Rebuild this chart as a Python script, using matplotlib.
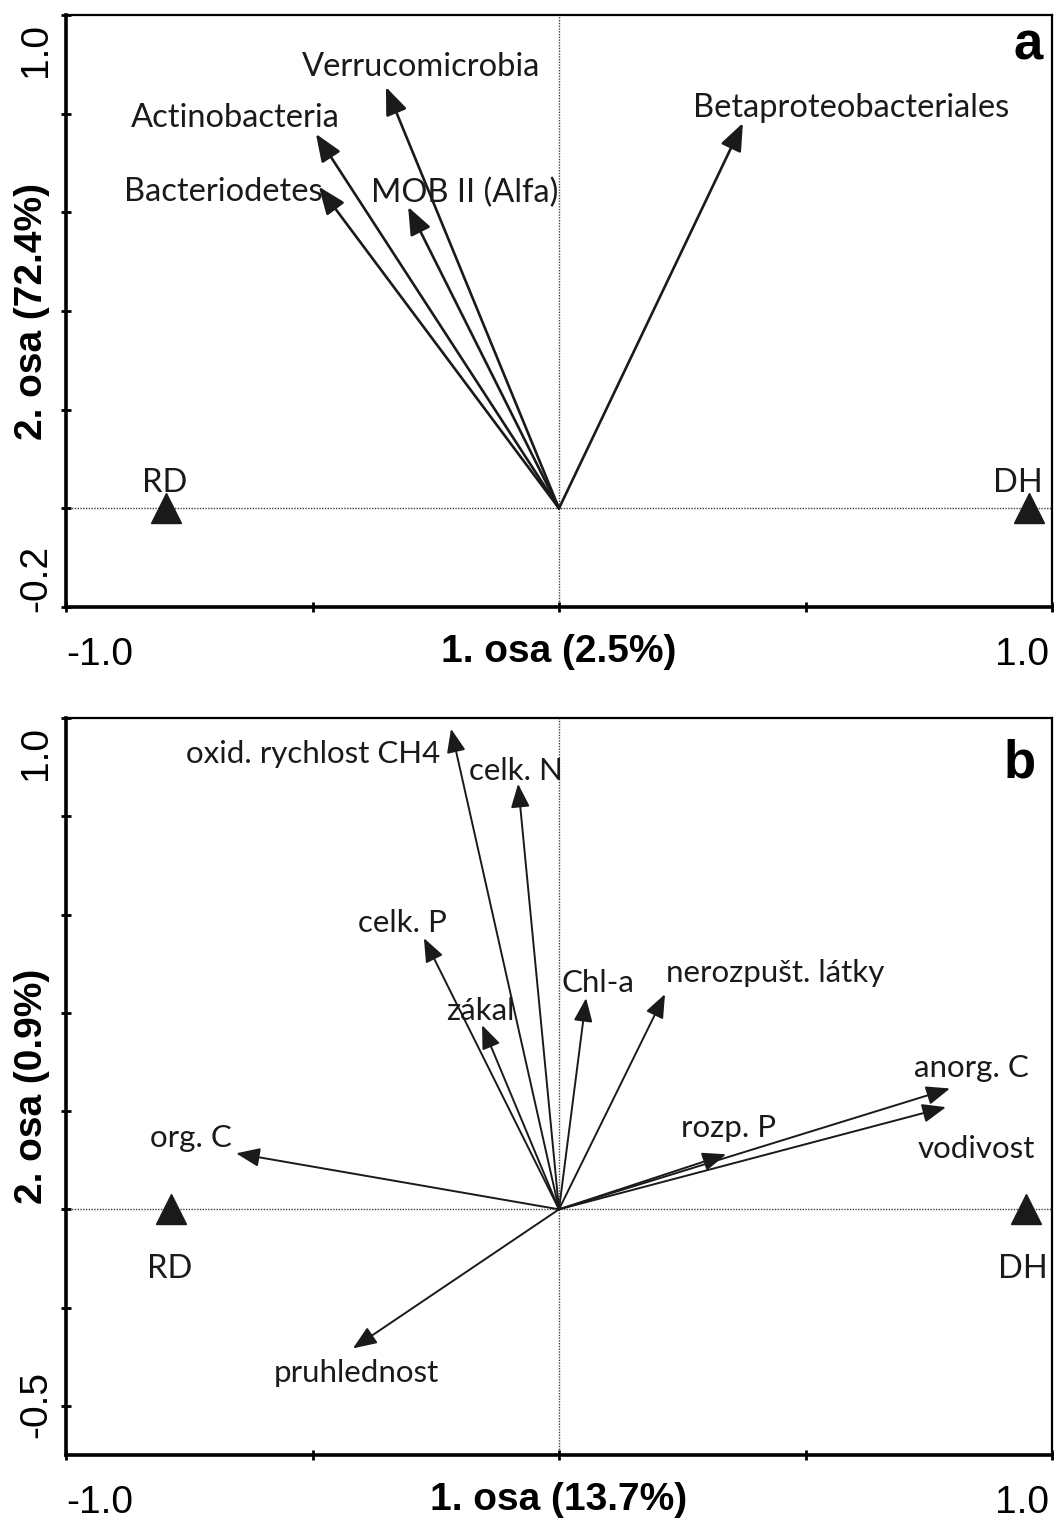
import matplotlib
matplotlib.use('Agg')

import matplotlib.pyplot as plt
import numpy as np

# RDA ordination scores (axis 1, axis 2)
# a) bacterial groups
taxa = ['Verrucomicrobia', 'Actinobacteria', 'Bacteriodetes', 'MOB II (Alfa)', 'Betaproteobacteriales']
taxa_ax1 = [-0.351, -0.493, -0.487, -0.306, 0.373]
taxa_ax2 = [0.854, 0.759, 0.652, 0.611, 0.781]

# b) environmental variables
env = ['oxid. rychlost CH4', 'celk. N', 'celk. P', 'zákal', 'Chl-a', 'nerozpušt. látky',
       'anorg. C', 'vodivost', 'rozp. P', 'org. C', 'pruhlednost']
env_ax1 = [-0.219, -0.083, -0.274, -0.156, 0.055, 0.215, 0.793, 0.785, 0.339, -0.655, -0.418]
env_ax2 = [0.978, 0.866, 0.552, 0.375, 0.430, 0.438, 0.246, 0.208, 0.112, 0.114, -0.283]

# sampling sites
sites = ['RD', 'DH']
sites_ax1_a = [-0.797, 0.953]
sites_ax1_b = [-0.787, 0.947]
sites_ax2 = [0.0, 0.0]

# label placement (pixels relative to arrow tip)
taxa_off = [(35, 20), (-81, 16), (-96, -5), (57, 14), (108, 15)]
env_off = [(-138, -25), (-2, 13), (-21, 15), (-2, 14), (12, 15), (110, 21),
           (21, 20), (30, -42), (2, 26), (-45, 15), (3, -25)]

LBL = 'Lato'
NARROW = ['Liberation Sans Narrow', 'Liberation Sans']
INK = '#1a1a1a'

fig = plt.figure(figsize=(10.58, 15.24), dpi=100)
ax_a = fig.add_axes([66 / 1058, 1 - 607 / 1524, 986 / 1058, 592 / 1524])
ax_b = fig.add_axes([66 / 1058, 1 - 1455 / 1524, 986 / 1058, 737 / 1524])


def frame(ax, ylo, yticks, ylo_lbl, xlab, ylab, letter, ylo_off, letter_off):
    ax.set_xlim(-1, 1)
    ax.set_ylim(ylo, 1.0)
    ax.axhline(0, color='0.25', lw=1, ls=(0, (1, 1)), zorder=1)
    ax.axvline(0, color='0.25', lw=1, ls=(0, (1, 1)), zorder=1)
    for s in ['left', 'bottom']:
        ax.spines[s].set_linewidth(2.6)
    for s in ['top', 'right']:
        ax.spines[s].set_linewidth(1.6)
    ax.set_xticks([-1, -0.5, 0, 0.5, 1])
    ax.set_yticks(yticks)
    ax.tick_params(direction='inout', length=7, width=2, labelleft=False, labelbottom=False)
    tk = dict(fontsize=28, family=NARROW, fontstretch='condensed',
              xycoords='axes fraction', textcoords='offset pixels', ha='center', va='center')
    ax.annotate('-1.0', (0, 0), (34, -48), **tk)
    ax.annotate('1.0', (1, 0), (-30, -48), **tk)
    ax.annotate('1.0', (0, 1), (-30, -35), rotation=90, **tk)
    ax.annotate(ylo_lbl, (0, 0), (-30, ylo_off), rotation=90, **tk)
    ax.annotate(xlab, (0.5, 0), (0, -45), fontweight='bold', **tk)
    ax.annotate(ylab, (0, 0.5), (-34, 0), rotation=90, fontweight='bold', **tk)
    ax.annotate(letter, (1, 1), letter_off, fontsize=38, fontweight='bold',
                family='Liberation Sans', xycoords='axes fraction',
                textcoords='offset pixels', ha='center', va='center')


def arrows(ax, names, xs, ys, offs, lw, ms, fs):
    for name, x, y, off in zip(names, xs, ys, offs):
        ax.annotate('', xy=(x, y), xytext=(0, 0),
                    arrowprops=dict(arrowstyle='-|>,head_length=0.4,head_width=0.16',
                                    color=INK, lw=lw, mutation_scale=ms,
                                    shrinkA=0, shrinkB=0), zorder=3)
        ax.annotate(name, (x, y), off, textcoords='offset pixels', fontsize=fs,
                    family=LBL, color=INK, ha='center', va='center', zorder=4)


frame(ax_a, -0.2, np.arange(-0.2, 1.01, 0.2), '-0.2', '1. osa (2.5%)', '2. osa (72.4%)',
      'a', 29, (-24, -30))
arrows(ax_a, taxa, taxa_ax1, taxa_ax2, taxa_off, 1.9, 42, 23.5)
ax_a.plot(sites_ax1_a, sites_ax2, '^', color=INK, ms=22, zorder=3)
for name, x, y, dx in zip(sites, sites_ax1_a, sites_ax2, [-1, -11]):
    ax_a.annotate(name, (x, y), (dx, 25), textcoords='offset pixels', fontsize=23.5,
                  family=LBL, color=INK, ha='center', va='center')

frame(ax_b, -0.5, np.arange(-0.4, 1.01, 0.2), '-0.5', '1. osa (13.7%)', '2. osa (0.9%)',
      'b', 50, (-32, -46))
arrows(ax_b, env, env_ax1, env_ax2, env_off, 1.4, 36, 22.5)
ax_b.plot(sites_ax1_b, sites_ax2, '^', color=INK, ms=22, zorder=3)
for name, x, y, dx in zip(sites, sites_ax1_b, sites_ax2, [-1, -3]):
    ax_b.annotate(name, (x, y), (dx, -60), textcoords='offset pixels', fontsize=23.5,
                  family=LBL, color=INK, ha='center', va='center')

fig.savefig('out.png', dpi=100)
